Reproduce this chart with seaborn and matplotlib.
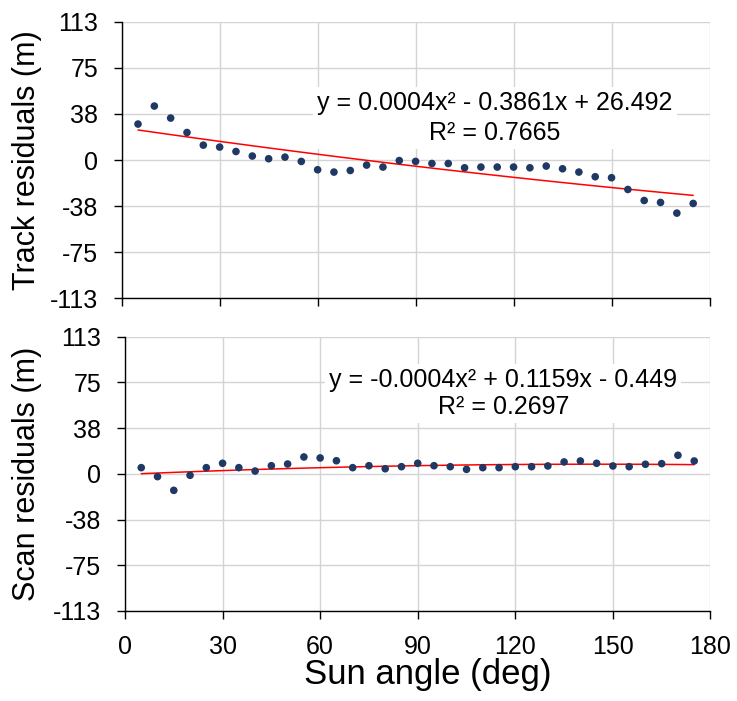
import numpy as np
import pandas as pd
import matplotlib
matplotlib.use("Agg")
import matplotlib.pyplot as plt
import seaborn as sns

# ---- data ----
sun_angle = [5, 10, 15, 20, 25, 30, 35, 40, 45, 50, 55, 60, 65, 70, 75, 80, 85, 90,
             95, 100, 105, 110, 115, 120, 125, 130, 135, 140, 145, 150, 155, 160, 165, 170, 175]
track_resid = [29.4, 44.1, 34.3, 22.5, 12.2, 10.6, 7.0, 3.3, 1.1, 2.4, -1.1, -7.9, -9.8, -8.5,
               -4.1, -5.7, -0.4, -1.1, -2.8, -2.8, -6.3, -5.7, -5.7, -5.7, -6.3, -4.9, -7.1,
               -9.8, -13.6, -14.4, -24.0, -33.0, -34.6, -43.3, -35.4]
scan_resid = [5.1, -2.3, -13.6, -1.2, 5.1, 8.7, 5.1, 2.3, 6.7, 8.1, 13.9, 13.1, 10.8, 5.1,
              6.7, 4.2, 5.9, 8.7, 6.7, 5.9, 3.7, 5.1, 5.1, 5.9, 5.9, 6.5, 9.8, 10.6, 8.7,
              6.5, 5.9, 7.9, 8.4, 15.3, 10.6]
track_coef = [0.0004, -0.3861, 26.492]
scan_coef = [-0.0004, 0.1159, -0.449]
track_eq = "y = 0.0004x² - 0.3861x + 26.492\nR² = 0.7665"
scan_eq = "y = -0.0004x² + 0.1159x - 0.449\nR² = 0.2697"
y_ticks = [113, 75.33, 37.67, 0, -37.67, -75.33, -113]
y_ticklabels = ["113", "75", "38", "0", "-38", "-75", "-113"]
x_ticks = [0, 30, 60, 90, 120, 150, 180]
x_ticklabels = ["0", "30", "60", "90", "120", "150", "180"]

sns.set_style("white")
plt.rcParams['font.family'] = ['Liberation Sans', 'DejaVu Sans']
plt.rcParams['text.color'] = 'black'
plt.rcParams['axes.labelcolor'] = 'black'
plt.rcParams['xtick.color'] = 'black'
plt.rcParams['ytick.color'] = 'black'

fig = plt.figure(figsize=(7.37, 7.01), dpi=100)
ax1 = fig.add_axes([0.1651, 0.5742, 0.7976, 0.3949])
ax2 = fig.add_axes([0.1696, 0.1284, 0.7944, 0.3913])

df = pd.DataFrame({"angle": sun_angle, "track": track_resid, "scan": scan_resid})
xa = np.array(sun_angle, dtype=float)
df["track_fit"] = np.polyval(track_coef, xa)
df["scan_fit"] = np.polyval(scan_coef, xa)

navy = "#1f3864"
panels = [(ax1, "track", "track_fit", track_eq, "Track residuals (m)", (0.635, 0.652), 1.3, -0.161),
          (ax2, "scan", "scan_fit", scan_eq, "Scan residuals (m)", (0.646, 0.793), 1.17, -0.167)]

for ax, col, fitcol, eq, ylab, pos, ls, ylx in panels:
    ax.set_xlim(0, 180)
    ax.set_ylim(-113, 113)
    ax.set_yticks(y_ticks)
    ax.set_yticklabels(y_ticklabels)
    ax.set_xticks(x_ticks)
    ax.grid(True, color="#d4d4d4", linewidth=1.0)
    ax.set_axisbelow(True)
    sns.lineplot(data=df, x="angle", y=fitcol, ax=ax, color="#ff0000", linewidth=1.1, zorder=3)
    sns.scatterplot(data=df, x="angle", y=col, ax=ax, color=navy, s=30, edgecolor="none", zorder=4)
    for s in ["top", "right"]:
        ax.spines[s].set_visible(False)
    for s in ["left", "bottom"]:
        ax.spines[s].set_color("black")
        ax.spines[s].set_linewidth(1.0)
    ax.tick_params(axis="both", direction="out", length=6, width=1, color="black",
                   labelcolor="black", labelsize=18, pad=11, left=True, bottom=True)
    ax.set_ylabel(ylab, fontsize=22, va="center", color="black")
    ax.yaxis.set_label_coords(ylx, 0.5)
    ax.text(pos[0], pos[1], eq, transform=ax.transAxes, ha="center", va="center",
            fontsize=18, multialignment="center", linespacing=ls, zorder=5, color="black",
            bbox=dict(facecolor="white", edgecolor="none", pad=3))

ax1.set_xticklabels([])
ax1.set_xlabel("")
ax2.set_xticklabels(x_ticklabels)
ax2.set_xlabel("Sun angle (deg)", fontsize=25, va="center", color="black")
ax2.xaxis.set_label_coords(0.517, -0.232)

fig.savefig("out.png", dpi=100)
